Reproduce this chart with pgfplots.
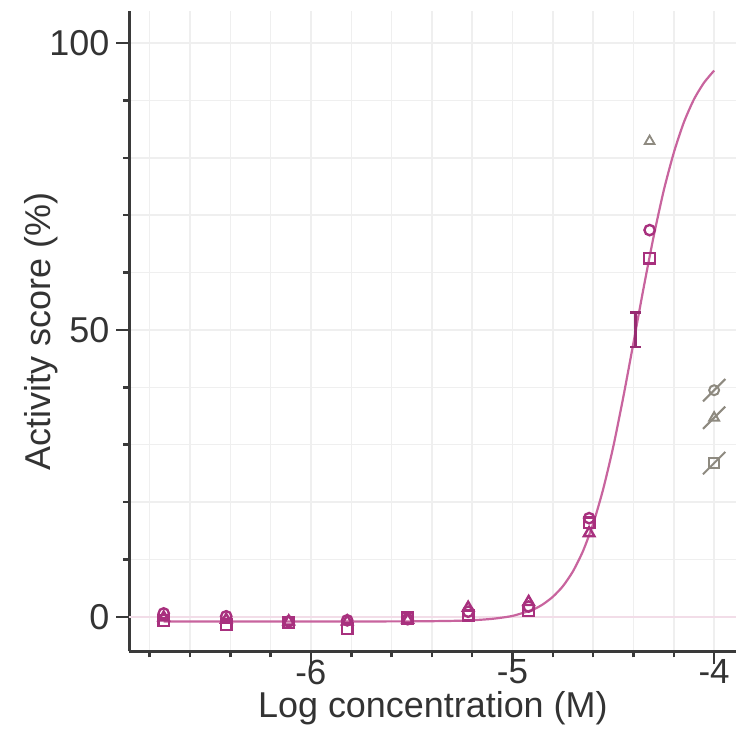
\documentclass[border=0pt]{standalone}
\usepackage{pgfplots}
\pgfplotsset{compat=1.18}
\usepackage{fontspec}
\setmainfont{Liberation Sans}
\definecolor{mag}{HTML}{A8307E}
\definecolor{curve}{HTML}{C8649E}
\definecolor{outl}{HTML}{8E8A80}
\definecolor{gridc}{HTML}{EFEFEF}
\definecolor{zeroc}{HTML}{F2DDE8}
\definecolor{axc}{HTML}{3A3A3A}
\pgfdeclareplotmark{sl}{\pgfpathmoveto{\pgfqpoint{-5.6pt}{-5.6pt}}\pgfpathlineto{\pgfqpoint{5.6pt}{5.6pt}}\pgfusepathqstroke}
\pgfdeclareplotmark{slo}{\pgfuseplotmark{o}\pgfuseplotmark{sl}}
\pgfdeclareplotmark{sltri}{\pgfuseplotmark{triangle}\pgfuseplotmark{sl}}
\pgfdeclareplotmark{slsq}{\pgfuseplotmark{square}\pgfuseplotmark{sl}}
\begin{document}
\begin{tikzpicture}
\begin{axis}[
  scale only axis, width=304pt, height=320.5pt,
  xmin=-6.9, xmax=-3.89, ymin=-6, ymax=105.5,
  axis lines=left,
  axis line style={-, line width=1.4pt, draw=axc},
  xtick={-6,-5,-4}, xticklabels={-6,-5,-4},
  minor xtick={-6.8,-6.6,-6.4,-6.2,-5.8,-5.6,-5.4,-5.2,-4.8,-4.6,-4.4,-4.2},
  ytick={0,50,100}, yticklabels={0,50,100},
  minor ytick={10,20,30,40,60,70,80,90},
  tick align=outside,
  major tick length=6.5pt, minor tick length=3pt,
  every tick/.style={line width=1.3pt, draw=axc},
  grid=both,
  grid style={draw=gridc, line width=0.7pt},
  major grid style={draw=gridc, line width=0.7pt},
  ticklabel style={font=\fontsize{18}{21}\selectfont, text=black!80},
  xticklabel style={font=\fontsize{17.5}{20}\selectfont, yshift=3pt, inner sep=0.5pt},
  label style={font=\fontsize{18}{22}\selectfont, text=black!80},
  xlabel={Log concentration (M)},
  ylabel={Activity score (\%)},
  xlabel style={at={(axis description cs:0.5,0)}, anchor=base, yshift=-33pt, inner sep=0.5pt},
  ylabel style={yshift=-11pt},
  clip=false,
]
% faint zero line
\addplot[draw=zeroc, line width=0.8pt, forget plot] coordinates {(-6.9,0) (-3.89,0)};
% fitted curve
\addplot[draw=curve, line width=1.1pt, smooth, tension=0.4] coordinates {
(-6.73,-0.8) (-6.0,-0.8) (-5.5,-0.78) (-5.3,-0.7) (-5.2,-0.59) (-5.1,-0.34) (-5.0,0.17) (-4.9,1.25) (-4.85,2.17)
(-4.8,3.5) (-4.75,5.35) (-4.7,7.95) (-4.65,11.5) (-4.6,16.23) (-4.55,22.3) (-4.5,29.7)
(-4.45,38.4) (-4.4,47.8) (-4.35,57.3) (-4.3,66.3) (-4.25,74.3) (-4.2,80.9) (-4.15,86.2)
(-4.1,90.2) (-4.05,93.1) (-4.0,95.2)};
% AC50 bar (I-beam)
\addplot[draw=mag!90!black, line width=1.7pt, mark=-, mark size=2.6pt,
  mark options={line width=1.3pt, draw=mag!90!black}]
  coordinates {(-4.39,47) (-4.39,53)};
% circles
\addplot[only marks, mark=o, mark size=2.6pt, mark options={draw=mag, line width=1.2pt}] coordinates {
(-6.73,0.6) (-6.42,0.1) (-6.11,-0.8) (-5.82,-0.6) (-5.52,-0.4) (-5.22,0.9) (-4.92,1.8) (-4.62,17.2) (-4.32,67.4)};
% triangles
\addplot[only marks, mark=triangle, mark size=3pt, mark options={draw=mag, line width=1.2pt}] coordinates {
(-6.73,-0.1) (-6.42,-0.5) (-6.11,-0.8) (-5.82,-0.8) (-5.52,-0.5) (-5.22,1.6) (-4.92,2.6) (-4.62,14.6)};
% squares
\addplot[only marks, mark=square, mark size=2.7pt, mark options={draw=mag, line width=1.2pt}] coordinates {
(-6.73,-0.6) (-6.42,-1.4) (-6.11,-1.0) (-5.82,-2.0) (-5.52,-0.2) (-5.22,0.3) (-4.92,1.1) (-4.62,16.4) (-4.32,62.5)};
% outliers
\addplot[only marks, mark=triangle, mark size=2.8pt, mark options={draw=outl, line width=0.9pt}] coordinates {(-4.32,82.9)};
\addplot[only marks, mark=slo, mark size=2.5pt, mark options={draw=outl, line width=1.0pt}] coordinates {(-4.0,39.5)};
\addplot[only marks, mark=sltri, mark size=2.8pt, mark options={draw=outl, line width=1.0pt}] coordinates {(-4.0,34.7)};
\addplot[only marks, mark=slsq, mark size=2.5pt, mark options={draw=outl, line width=1.0pt}] coordinates {(-4.0,26.8)};
\coordinate (bbl) at (axis cs:-7.542,-23.2);
\coordinate (btr) at (axis cs:-3.848,107.5);
\end{axis}
\pgfresetboundingbox
\path[use as bounding box] (bbl) rectangle (btr);
\end{tikzpicture}
\end{document}
